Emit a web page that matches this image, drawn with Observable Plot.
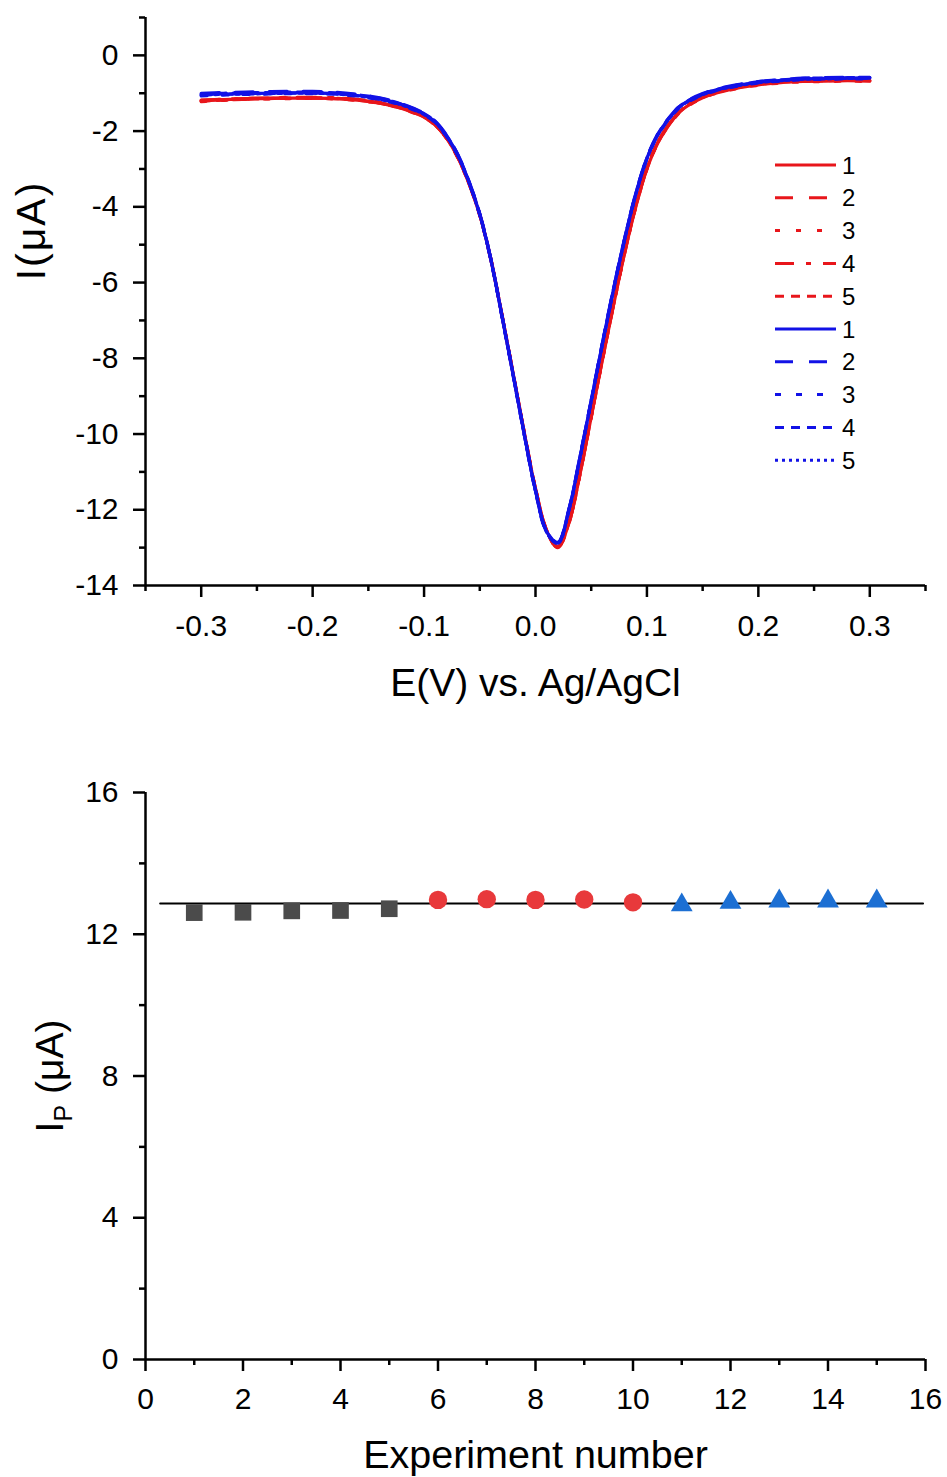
<!DOCTYPE html>
<html><head><meta charset="utf-8">
<script src="https://cdn.jsdelivr.net/npm/d3@7"></script>
<script src="https://cdn.jsdelivr.net/npm/@observablehq/plot@0.6"></script>
<style>
body{margin:0;background:#fff;}
#wrap{position:relative;width:947px;height:720px;}
#legend{position:absolute;left:0;top:0;pointer-events:none;}
svg{display:block}
</style></head><body>
<div id="wrap"><div id="topChart"></div><svg id="legend" width="947" height="720"></svg></div>
<div id="bottomChart"></div>
<script>
// ---------- Top chart data: potential (V) and current (µA) ----------
const potential = [-0.30,-0.28,-0.26,-0.24,-0.22,-0.20,-0.18,-0.16,-0.14,-0.12,-0.10,-0.09,-0.08,-0.07,-0.06,-0.05,-0.04,-0.03,-0.02,-0.01,0.00,0.01,0.02,0.03,0.04,0.05,0.06,0.07,0.08,0.09,0.10,0.11,0.12,0.13,0.14,0.15,0.16,0.18,0.20,0.22,0.24,0.26,0.28,0.30];
const red1 = [-1.20,-1.17,-1.15,-1.14,-1.13,-1.13,-1.14,-1.18,-1.26,-1.40,-1.63,-1.84,-2.18,-2.68,-3.36,-4.22,-5.40,-6.88,-8.42,-9.98,-11.45,-12.55,-13.00,-12.35,-11.05,-9.55,-8.05,-6.60,-5.22,-4.00,-3.00,-2.30,-1.83,-1.48,-1.27,-1.12,-1.01,-0.87,-0.78,-0.72,-0.69,-0.68,-0.67,-0.68];
const red2 = [-1.18,-1.16,-1.14,-1.13,-1.12,-1.12,-1.13,-1.17,-1.25,-1.39,-1.62,-1.83,-2.17,-2.67,-3.35,-4.21,-5.39,-6.87,-8.41,-9.97,-11.44,-12.54,-12.98,-12.33,-11.03,-9.53,-8.03,-6.58,-5.20,-3.98,-2.98,-2.28,-1.81,-1.46,-1.25,-1.10,-0.99,-0.85,-0.76,-0.70,-0.67,-0.66,-0.65,-0.66];
const red3 = [-1.22,-1.19,-1.16,-1.15,-1.14,-1.14,-1.15,-1.19,-1.27,-1.41,-1.64,-1.85,-2.19,-2.69,-3.37,-4.23,-5.41,-6.89,-8.43,-9.99,-11.46,-12.56,-13.01,-12.36,-11.06,-9.56,-8.06,-6.61,-5.23,-4.01,-3.01,-2.31,-1.84,-1.49,-1.28,-1.13,-1.02,-0.88,-0.79,-0.73,-0.70,-0.69,-0.68,-0.69];
const red4 = [-1.19,-1.16,-1.14,-1.12,-1.11,-1.11,-1.12,-1.16,-1.24,-1.38,-1.61,-1.82,-2.16,-2.66,-3.34,-4.20,-5.38,-6.86,-8.40,-9.96,-11.43,-12.53,-12.97,-12.32,-11.02,-9.52,-8.02,-6.57,-5.19,-3.97,-2.97,-2.27,-1.80,-1.45,-1.24,-1.09,-0.98,-0.84,-0.75,-0.69,-0.66,-0.65,-0.64,-0.65];
const red5 = [-1.21,-1.18,-1.16,-1.14,-1.13,-1.13,-1.14,-1.18,-1.26,-1.40,-1.63,-1.84,-2.18,-2.68,-3.36,-4.22,-5.40,-6.88,-8.42,-9.98,-11.45,-12.55,-12.99,-12.34,-11.04,-9.54,-8.04,-6.59,-5.21,-3.99,-2.99,-2.29,-1.82,-1.47,-1.26,-1.11,-1.00,-0.86,-0.77,-0.71,-0.68,-0.67,-0.66,-0.67];
const blue1 = [-1.04,-1.02,-1.01,-1.00,-0.99,-0.99,-1.01,-1.06,-1.15,-1.30,-1.55,-1.76,-2.12,-2.62,-3.32,-4.20,-5.40,-6.90,-8.45,-10.02,-11.50,-12.58,-12.88,-12.00,-10.60,-9.12,-7.62,-6.18,-4.85,-3.66,-2.72,-2.08,-1.66,-1.34,-1.16,-1.03,-0.93,-0.80,-0.71,-0.66,-0.62,-0.61,-0.60,-0.60];
const blue2 = [-1.00,-0.98,-0.97,-0.96,-0.95,-0.95,-0.97,-1.03,-1.12,-1.28,-1.53,-1.74,-2.10,-2.60,-3.30,-4.18,-5.38,-6.88,-8.43,-10.00,-11.48,-12.56,-12.86,-11.98,-10.58,-9.10,-7.60,-6.16,-4.83,-3.64,-2.70,-2.06,-1.64,-1.32,-1.14,-1.01,-0.91,-0.78,-0.69,-0.64,-0.60,-0.59,-0.58,-0.58];
const blue3 = [-1.07,-1.05,-1.03,-1.02,-1.01,-1.01,-1.03,-1.08,-1.17,-1.32,-1.57,-1.78,-2.14,-2.64,-3.34,-4.22,-5.42,-6.92,-8.47,-10.04,-11.52,-12.60,-12.90,-12.02,-10.62,-9.14,-7.64,-6.20,-4.87,-3.68,-2.74,-2.10,-1.68,-1.36,-1.18,-1.05,-0.95,-0.82,-0.73,-0.68,-0.64,-0.63,-0.62,-0.62];
const blue4 = [-1.02,-1.00,-0.99,-0.98,-0.97,-0.97,-0.99,-1.04,-1.13,-1.29,-1.54,-1.75,-2.11,-2.61,-3.31,-4.19,-5.39,-6.89,-8.44,-10.01,-11.49,-12.57,-12.87,-11.99,-10.59,-9.11,-7.61,-6.17,-4.84,-3.65,-2.71,-2.07,-1.65,-1.33,-1.15,-1.02,-0.92,-0.79,-0.70,-0.65,-0.61,-0.60,-0.59,-0.59];
const blue5 = [-1.05,-1.03,-1.02,-1.01,-1.00,-1.00,-1.02,-1.07,-1.16,-1.31,-1.56,-1.77,-2.13,-2.63,-3.33,-4.21,-5.41,-6.91,-8.46,-10.03,-11.51,-12.59,-12.89,-12.01,-10.61,-9.13,-7.63,-6.19,-4.86,-3.67,-2.73,-2.09,-1.67,-1.35,-1.17,-1.04,-0.94,-0.81,-0.72,-0.67,-0.63,-0.62,-0.61,-0.61];
const seriesLabels = ["1","2","3","4","5","1","2","3","4","5"];

const eDomain = [-0.35, 0.35];
const iDomain = [-14, 1];
const eMajorTicks = [-0.3,-0.2,-0.1,0,0.1,0.2,0.3];
const eMinorTicks = [-0.35,-0.25,-0.15,-0.05,0.05,0.15,0.25,0.35];
const iMajorTicks = [0,-2,-4,-6,-8,-10,-12,-14];
const iMinorTicks = [1,-1,-3,-5,-7,-9,-11,-13];
const xTitleTop = "E(V) vs. Ag/AgCl";
const yTitleTop = "I(μA)";

// ---------- Bottom chart data ----------
const experimentNo = [1,2,3,4,5,6,7,8,9,10,11,12,13,14,15];
const peakCurrent = [12.61,12.62,12.66,12.67,12.72,12.97,12.99,12.97,12.98,12.90,12.91,12.98,13.02,13.02,13.02];
const groupOf = ["a","a","a","a","a","b","b","b","b","b","c","c","c","c","c"];
const meanLineX = [0.3, 15.95];
const meanLineY = 12.87;
const expDomain = [0, 16];
const ipDomain = [0, 16];
const expMajorTicks = [0,2,4,6,8,10,12,14,16];
const expMinorTicks = [1,3,5,7,9,11,13,15];
const ipMajorTicks = [0,4,8,12,16];
const ipMinorTicks = [2,6,10,14];
const xTitleBottom = "Experiment number";

// ---------- Styles ----------
const FONT = "'Liberation Sans', Arial, Helvetica, sans-serif";
const RED = "#e8161b", BLUE = "#1212e6";
const curveColors = [RED,RED,RED,RED,RED,BLUE,BLUE,BLUE,BLUE,BLUE];
const curveDash = ["none","18,16","5,16","19,12,5,12","9,7","none","18,16","6,15","9,7","3,4"];
const curveSeries = [red1,red2,red3,red4,red5,blue1,blue2,blue3,blue4,blue5];

const curveMarks = curveSeries.map((vals, k) =>
  Plot.line(potential.map((e, i) => ({E: e, I: vals[i]})), {
    x: "E", y: "I", stroke: curveColors[k], strokeWidth: 3.2,
    strokeDasharray: curveDash[k], curve: "catmull-rom"
  }));

const topPlot = Plot.plot({
  width: 947, height: 720,
  marginLeft: 145, marginRight: 22, marginTop: 17, marginBottom: 135,
  x: {domain: eDomain},
  y: {domain: iDomain},
  style: {fontFamily: FONT, background: "white", color: "black", overflow: "visible"},
  marks: [
    ...curveMarks,
    Plot.ruleX([eDomain[0]], {strokeWidth: 2.5}),
    Plot.ruleY([iDomain[0]], {strokeWidth: 2.5}),
    Plot.axisX(eMajorTicks, {tickSize: 12, tickPadding: 17, tickFormat: d => d.toFixed(1), fontSize: 30, strokeWidth: 2.5, label: null}),
    Plot.axisX(eMinorTicks, {tickSize: 6, tickFormat: () => "", strokeWidth: 2.5, label: null}),
    Plot.axisY(iMajorTicks, {tickSize: 12, tickPadding: 15, tickFormat: d => String(d), fontSize: 30, strokeWidth: 2.5, label: null}),
    Plot.axisY(iMinorTicks, {tickSize: 6, tickFormat: () => "", strokeWidth: 2.5, label: null}),
    Plot.text([xTitleTop], {text: d => d, frameAnchor: "bottom", dy: 98, fontSize: 39, textAnchor: "middle", lineAnchor: "middle"}),
    Plot.text([yTitleTop], {text: d => d, frameAnchor: "left", dx: -114, dy: -71, rotate: -90, fontSize: 41, textAnchor: "middle", lineAnchor: "middle"})
  ]
});
document.getElementById("topChart").appendChild(topPlot);
d3.select(topPlot).selectAll("text").each(function() {
  if (this.textContent === yTitleTop) d3.select(this).attr("letter-spacing", "2px");
});

// legend overlay
const leg = d3.select("#legend");
seriesLabels.forEach((lab, k) => {
  const y = 165 + k * 32.8;
  leg.append("line").attr("x1", 775).attr("x2", 836).attr("y1", y).attr("y2", y)
    .attr("stroke", curveColors[k]).attr("stroke-width", 3)
    .attr("stroke-dasharray", curveDash[k]);
  leg.append("text").attr("x", 842).attr("y", y).attr("dy", "0.36em")
    .attr("font-family", FONT).attr("font-size", 24).attr("fill", "black").text(lab);
});

// bottom chart
const pts = experimentNo.map((n, i) => ({n, ip: peakCurrent[i], g: groupOf[i]}));
const bottomPlot = Plot.plot({
  width: 947, height: 757,
  marginLeft: 145, marginRight: 22, marginTop: 72, marginBottom: 118,
  x: {domain: expDomain},
  y: {domain: ipDomain},
  style: {fontFamily: FONT, background: "white", color: "black", overflow: "visible"},
  marks: [
    Plot.line(meanLineX.map(x => ({x, y: meanLineY})), {x: "x", y: "y", stroke: "black", strokeWidth: 2}),
    Plot.dot(pts.filter(d => d.g === "a"), {x: "n", y: "ip", symbol: "square", r: 9.4, fill: "#4b4b4b", stroke: "none"}),
    Plot.dot(pts.filter(d => d.g === "b"), {x: "n", y: "ip", symbol: "circle", r: 9.2, fill: "#e8393b", stroke: "none"}),
    Plot.dot(pts.filter(d => d.g === "c"), {x: "n", y: "ip", symbol: "triangle", r: 8.1, fill: "#1c6fd3", stroke: "none", dy: 3}),
    Plot.ruleX([expDomain[0]], {strokeWidth: 2.5}),
    Plot.ruleY([ipDomain[0]], {strokeWidth: 2.5}),
    Plot.axisX(expMajorTicks, {tickSize: 12, tickPadding: 16, tickFormat: d => String(d), fontSize: 30, strokeWidth: 2.5, label: null}),
    Plot.axisX(expMinorTicks, {tickSize: 6, tickFormat: () => "", strokeWidth: 2.5, label: null}),
    Plot.axisY(ipMajorTicks, {tickSize: 12, tickPadding: 15, tickFormat: d => String(d), fontSize: 30, strokeWidth: 2.5, label: null}),
    Plot.axisY(ipMinorTicks, {tickSize: 6, tickFormat: () => "", strokeWidth: 2.5, label: null}),
    Plot.text([xTitleBottom], {text: d => d, frameAnchor: "bottom", dy: 96, fontSize: 39.5, textAnchor: "middle", lineAnchor: "middle"}),
    Plot.text(["IP (μA)"], {text: d => d, frameAnchor: "left", dx: -95, dy: 0, rotate: -90, fontSize: 39, textAnchor: "middle", lineAnchor: "middle"})
  ]
});
document.getElementById("bottomChart").appendChild(bottomPlot);

// subscript P in the bottom y title
d3.select(bottomPlot).selectAll("text").each(function() {
  if (this.textContent === "IP (μA)") {
    const t = d3.select(this);
    t.text("");
    t.append("tspan").text("I");
    t.append("tspan").attr("font-size", 25).attr("dy", 9).text("P");
    t.append("tspan").attr("dy", -9).text(" (μA)");
  }
});
</script>
</body></html>
